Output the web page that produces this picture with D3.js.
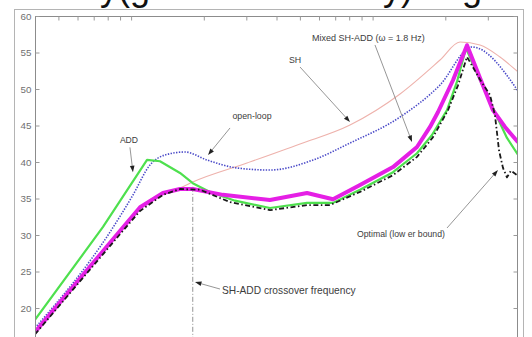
<!DOCTYPE html>
<html><head><meta charset="utf-8">
<script src="https://cdn.jsdelivr.net/npm/d3@7"></script>
<style>
html,body{margin:0;padding:0;background:#fff;}
svg{display:block;font-family:"Liberation Sans",Arial,sans-serif;}
</style></head><body>
<svg id="chart" width="532" height="337"></svg>
<script>
// Frequency (Hz) and level for each curve
const shFreq   = [0.4, 0.899, 1.089, 1.355, 1.594, 1.8, 3.019, 5.006, 8.062, 12.99, 19.02, 23.01, 27.84, 33.69, 40];
const shGain   = [16.7, 30.55, 33.8, 35.75, 36.44, 37.26, 39.86, 42.47, 45.07, 49.32, 53.97, 56.44, 56.03, 54.38, 52.33];

const openFreq = [0.4, 0.818, 1.018, 1.197, 1.382, 1.672, 2.063, 2.745, 3.759, 5.666, 8.062, 12.99, 19.02, 25.8, 40];
const openGain = [17.26, 30.41, 35.48, 39.59, 40.96, 41.37, 40.27, 39.18, 38.9, 40.27, 42.6, 46.16, 50.55, 55.75, 49.73];

const addFreq  = [0.4, 0.765, 1.164, 1.317, 1.594, 1.8, 2.121, 2.693, 3.759, 5.351, 6.854, 8.868, 12.15, 15.27, 17.62, 20.33, 22.36, 24.36, 27.84, 32.74, 36.01, 40];
const addGain  = [18.4, 31.1, 40.3, 40.1, 38.5, 37.1, 35.9, 34.7, 33.7, 34.4, 34.4, 36.2, 38.6, 41.2, 43.7, 47.1, 51.0, 55.6, 51.2, 46.2, 43.3, 41.0];

const mixedFreq = [0.4, 0.743, 0.899, 1.089, 1.355, 1.594, 1.8, 2.4, 3.759, 5.351, 6.854, 8.868, 12.15, 15.27, 17.29, 18.66, 21.52, 24.6, 27.84, 31.51, 35.33, 40];
const mixedGain = [16.7, 27.3, 30.55, 33.8, 35.75, 36.3, 36.3, 35.5, 34.8, 35.75, 34.9, 36.85, 39.3, 42.05, 44.8, 46.85, 51.2, 56.0, 51.5, 47.1, 44.8, 42.7];

const optFreq  = [0.4, 0.899, 1.089, 1.355, 1.594, 1.929, 2.568, 3.759, 5.351, 6.661, 8.868, 12.15, 15.27, 17.79, 20.52, 22.57, 24.6, 27.84, 30.62, 32.12, 33.37, 34.66, 36.01, 37.41, 40];
const optGain  = [16.4, 30.1, 33.3, 35.5, 36.3, 36.2, 34.5, 33.4, 34.1, 34.1, 35.9, 38.2, 40.7, 43.4, 47.1, 50.5, 54.4, 51.3, 49.2, 46.4, 41.6, 39.2, 37.9, 38.8, 38.1];

const crossoverFreq = 1.8;
const crossoverGain = 36.6;

const yTicks = [15, 20, 25, 30, 35, 40, 45, 50, 55, 60];
const xTicks = [0.5, 0.6, 0.7, 0.8, 0.9, 1, 2, 3, 4, 5, 6, 7, 8, 9, 10, 20, 30];

// annotation text, label anchor and arrow (tail -> head), in data units
const notes = [
  {text: "ADD", anchor: "middle", size: 8.6, at: [0.98, 43.0], from: [0.989, 42.0], to: [1.018, 38.6]},
  {text: "open-loop", anchor: "middle", size: 8.8, at: [3.166, 46.3], from: [2.568, 44.66], to: [2.082, 40.96]},
  {text: "SH", anchor: "middle", size: 8.8, at: [4.773, 53.97], from: [5.006, 53.01], to: [8.062, 45.48]},
  {text: "Mixed SH-ADD (\u03c9 = 1.8 Hz)", anchor: "start", size: 9.0, at: [5.611, 56.99], from: [10.23, 56.03], to: [14.56, 42.74]},
  {text: "Optimal (low er bound)", anchor: "start", size: 8.7, at: [8.618, 30.14], from: [20.33, 30.96], to: [33.05, 38.9]},
  {text: "SH-ADD crossover frequency", anchor: "start", size: 10.2, at: [2.379, 22.33], from: [2.334, 22.6], to: [1.839, 23.56]}
];

const svg = d3.select("#chart");
const plotLeft = 35, plotRight = 518, plotTop = 16;

const x = d3.scaleLog().domain([0.4, 40]).range([plotLeft, plotRight]);
const y = d3.scaleLinear().domain([15, 60]).range([plotTop + 45 * 7.3, plotTop]);

// heading above the plot (only its lowest strokes fall inside the frame)
const head = svg.append("g").attr("fill", "#111").attr("font-size", 36);
head.append("text").attr("x", 100).attr("y", 0).text("y(g");
head.append("text").attr("x", 383).attr("y", 0).text("y)");
head.append("text").attr("x", 462).attr("y", 0).text("g");

// figure frame
svg.append("rect").attr("x", 14.5).attr("y", 9.5).attr("width", 509).attr("height", 340)
  .attr("fill", "#fff").attr("stroke", "#b4b4b4").attr("stroke-width", 1);

// axes box
svg.append("rect").attr("x", plotLeft + 0.5).attr("y", plotTop + 0.5)
  .attr("width", plotRight - plotLeft - 1).attr("height", 340)
  .attr("fill", "#fff").attr("stroke", "#8c8c8c").attr("stroke-width", 1);

const axisStyle = g => {
  g.select(".domain").remove();
  g.selectAll(".tick line").attr("stroke", "#9a9a9a");
  g.selectAll(".tick text").attr("fill", "#707070").attr("font-size", 9.8)
    .attr("font-family", "Liberation Sans, Arial, sans-serif");
};

svg.append("g").attr("transform", `translate(${plotLeft + 0.5},0)`)
  .call(d3.axisLeft(y).tickValues(yTicks).tickSize(-4).tickPadding(4).tickFormat(d3.format("d")))
  .call(axisStyle);
svg.append("g").attr("transform", `translate(${plotRight - 0.5},0)`)
  .call(d3.axisRight(y).tickValues(yTicks).tickSize(-4).tickFormat(""))
  .call(axisStyle);
svg.append("g").attr("transform", `translate(0,${plotTop + 0.5})`)
  .call(d3.axisTop(x).tickValues(xTicks).tickSize(-4).tickFormat(""))
  .call(axisStyle);

// clip curves to the plot area
svg.append("clipPath").attr("id", "plot").append("rect")
  .attr("x", plotLeft + 1).attr("y", plotTop + 1).attr("width", plotRight - plotLeft - 2).attr("height", 340);

const plot = svg.append("g").attr("clip-path", "url(#plot)");

// crossover marker
plot.append("line")
  .attr("x1", x(crossoverFreq)).attr("x2", x(crossoverFreq))
  .attr("y1", y(crossoverGain)).attr("y2", y(15))
  .attr("stroke", "#777").attr("stroke-width", 0.8).attr("stroke-dasharray", "5,2,1,2");

const pts = (f, g) => f.map((d, i) => [d, g[i]]);
const lineLin = d3.line().x(d => x(d[0])).y(d => y(d[1]));
const lineSmooth = d3.line().x(d => x(d[0])).y(d => y(d[1])).curve(d3.curveMonotoneX);

const series = [
  {data: pts(shFreq, shGain), gen: lineSmooth, color: "#eeb2ac", width: 1.1, dash: null},
  {data: pts(openFreq, openGain), gen: lineSmooth, color: "#4a4ac8", width: 1.6, dash: "1.4,1.4"},
  {data: pts(addFreq, addGain), gen: lineLin, color: "#4ee04e", width: 2.2, dash: null},
  {data: pts(mixedFreq, mixedGain), gen: lineLin, color: "#e51fe5", width: 4, dash: null},
  {data: pts(optFreq, optGain), gen: lineLin, color: "#1a1a1a", width: 1.8, dash: "5,2.5,1.5,2.5"}
];

series.forEach(s => {
  plot.append("path").attr("d", s.gen(s.data))
    .attr("fill", "none").attr("stroke", s.color).attr("stroke-width", s.width)
    .attr("stroke-linejoin", "round")
    .attr("stroke-dasharray", s.dash);
});

// annotations
const ann = svg.append("g");
notes.forEach(n => {
  const x0 = x(n.from[0]), y0 = y(n.from[1]);
  const x1 = x(n.to[0]), y1 = y(n.to[1]);
  const ang = Math.atan2(y1 - y0, x1 - x0);
  const L = 6.5, W = 2.3;
  const bx = x1 - L * Math.cos(ang), by = y1 - L * Math.sin(ang);
  ann.append("line").attr("x1", x0).attr("y1", y0).attr("x2", bx).attr("y2", by)
    .attr("stroke", "#8a8a8a").attr("stroke-width", 0.9);
  ann.append("path")
    .attr("d", `M${x1},${y1}L${bx - W * Math.sin(ang)},${by + W * Math.cos(ang)}L${bx + W * Math.sin(ang)},${by - W * Math.cos(ang)}Z`)
    .attr("fill", "#222");
  ann.append("text").attr("x", x(n.at[0])).attr("y", y(n.at[1]))
    .attr("text-anchor", n.anchor).attr("dominant-baseline", "central")
    .attr("font-size", n.size).attr("fill", "#3c3c3c").text(n.text);
});
</script>
</body></html>
